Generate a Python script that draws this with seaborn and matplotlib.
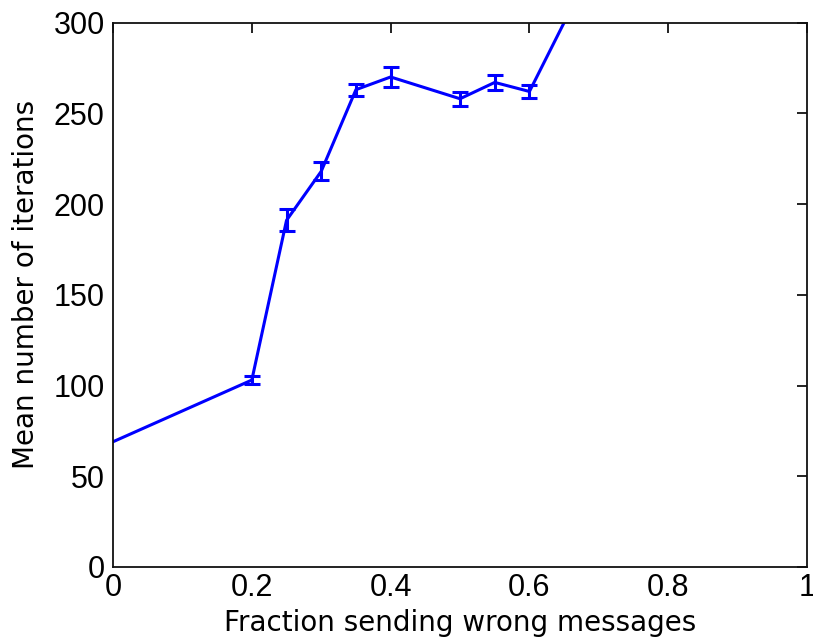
import matplotlib
matplotlib.use("Agg")
import matplotlib.pyplot as plt
import seaborn as sns
import pandas as pd

# Fraction of agents sending wrong messages vs. mean iterations to converge
fraction = [0.0, 0.2, 0.25, 0.3, 0.35, 0.4, 0.5, 0.55, 0.6, 0.7]
mean_iters = [69, 103, 191, 218, 263, 270, 258, 267, 262, 338]
err = [0, 2, 6, 5, 3.3, 5.7, 3.9, 4, 3.7, 0]

xticks = [0, 0.2, 0.4, 0.6, 0.8, 1]
xticklabels = ["0", "0.2", "0.4", "0.6", "0.8", "1"]
yticks = [0, 50, 100, 150, 200, 250, 300]

sns.set_style("white")
plt.rcParams["font.family"] = ["Liberation Sans", "DejaVu Sans"]

df = pd.DataFrame({"fraction": fraction, "mean": mean_iters, "err": err})

fig = plt.figure(figsize=(8.13, 6.38), dpi=100)
ax = fig.add_axes([0.139, 0.1113, 0.8537, 0.8534])

sns.lineplot(data=df, x="fraction", y="mean", ax=ax, color="#0000ff",
             linewidth=2.2, errorbar=None)
bars = df[df["err"] > 0]
ax.errorbar(bars["fraction"], bars["mean"], yerr=bars["err"], fmt="none",
            ecolor="#0000ff", elinewidth=2.2, capsize=5.5, capthick=2.2)

ax.set_xlim(0, 1)
ax.set_ylim(0, 300)
ax.set_xticks(xticks)
ax.set_xticklabels(xticklabels)
ax.set_yticks(yticks)

for side in ["left", "right", "top", "bottom"]:
    ax.spines[side].set_visible(True)
    ax.spines[side].set_color("#111111")
    ax.spines[side].set_linewidth(1.3)

ax.tick_params(axis="both", which="major", direction="in", length=7,
               width=1.3, color="#111111", labelsize=22, top=True,
               right=True, labelcolor="black")
ax.tick_params(axis="x", pad=4)
ax.tick_params(axis="y", pad=6)

label_font = {"family": ["DejaVu Sans"], "size": 20, "color": "black"}
ax.set_xlabel("Fraction sending wrong messages", fontdict=label_font,
              labelpad=5)
ax.set_ylabel("Mean number of iterations", fontdict=label_font)
ax.yaxis.set_label_coords(-0.105, 0.519)

fig.savefig("out.png", dpi=100, facecolor="white")
